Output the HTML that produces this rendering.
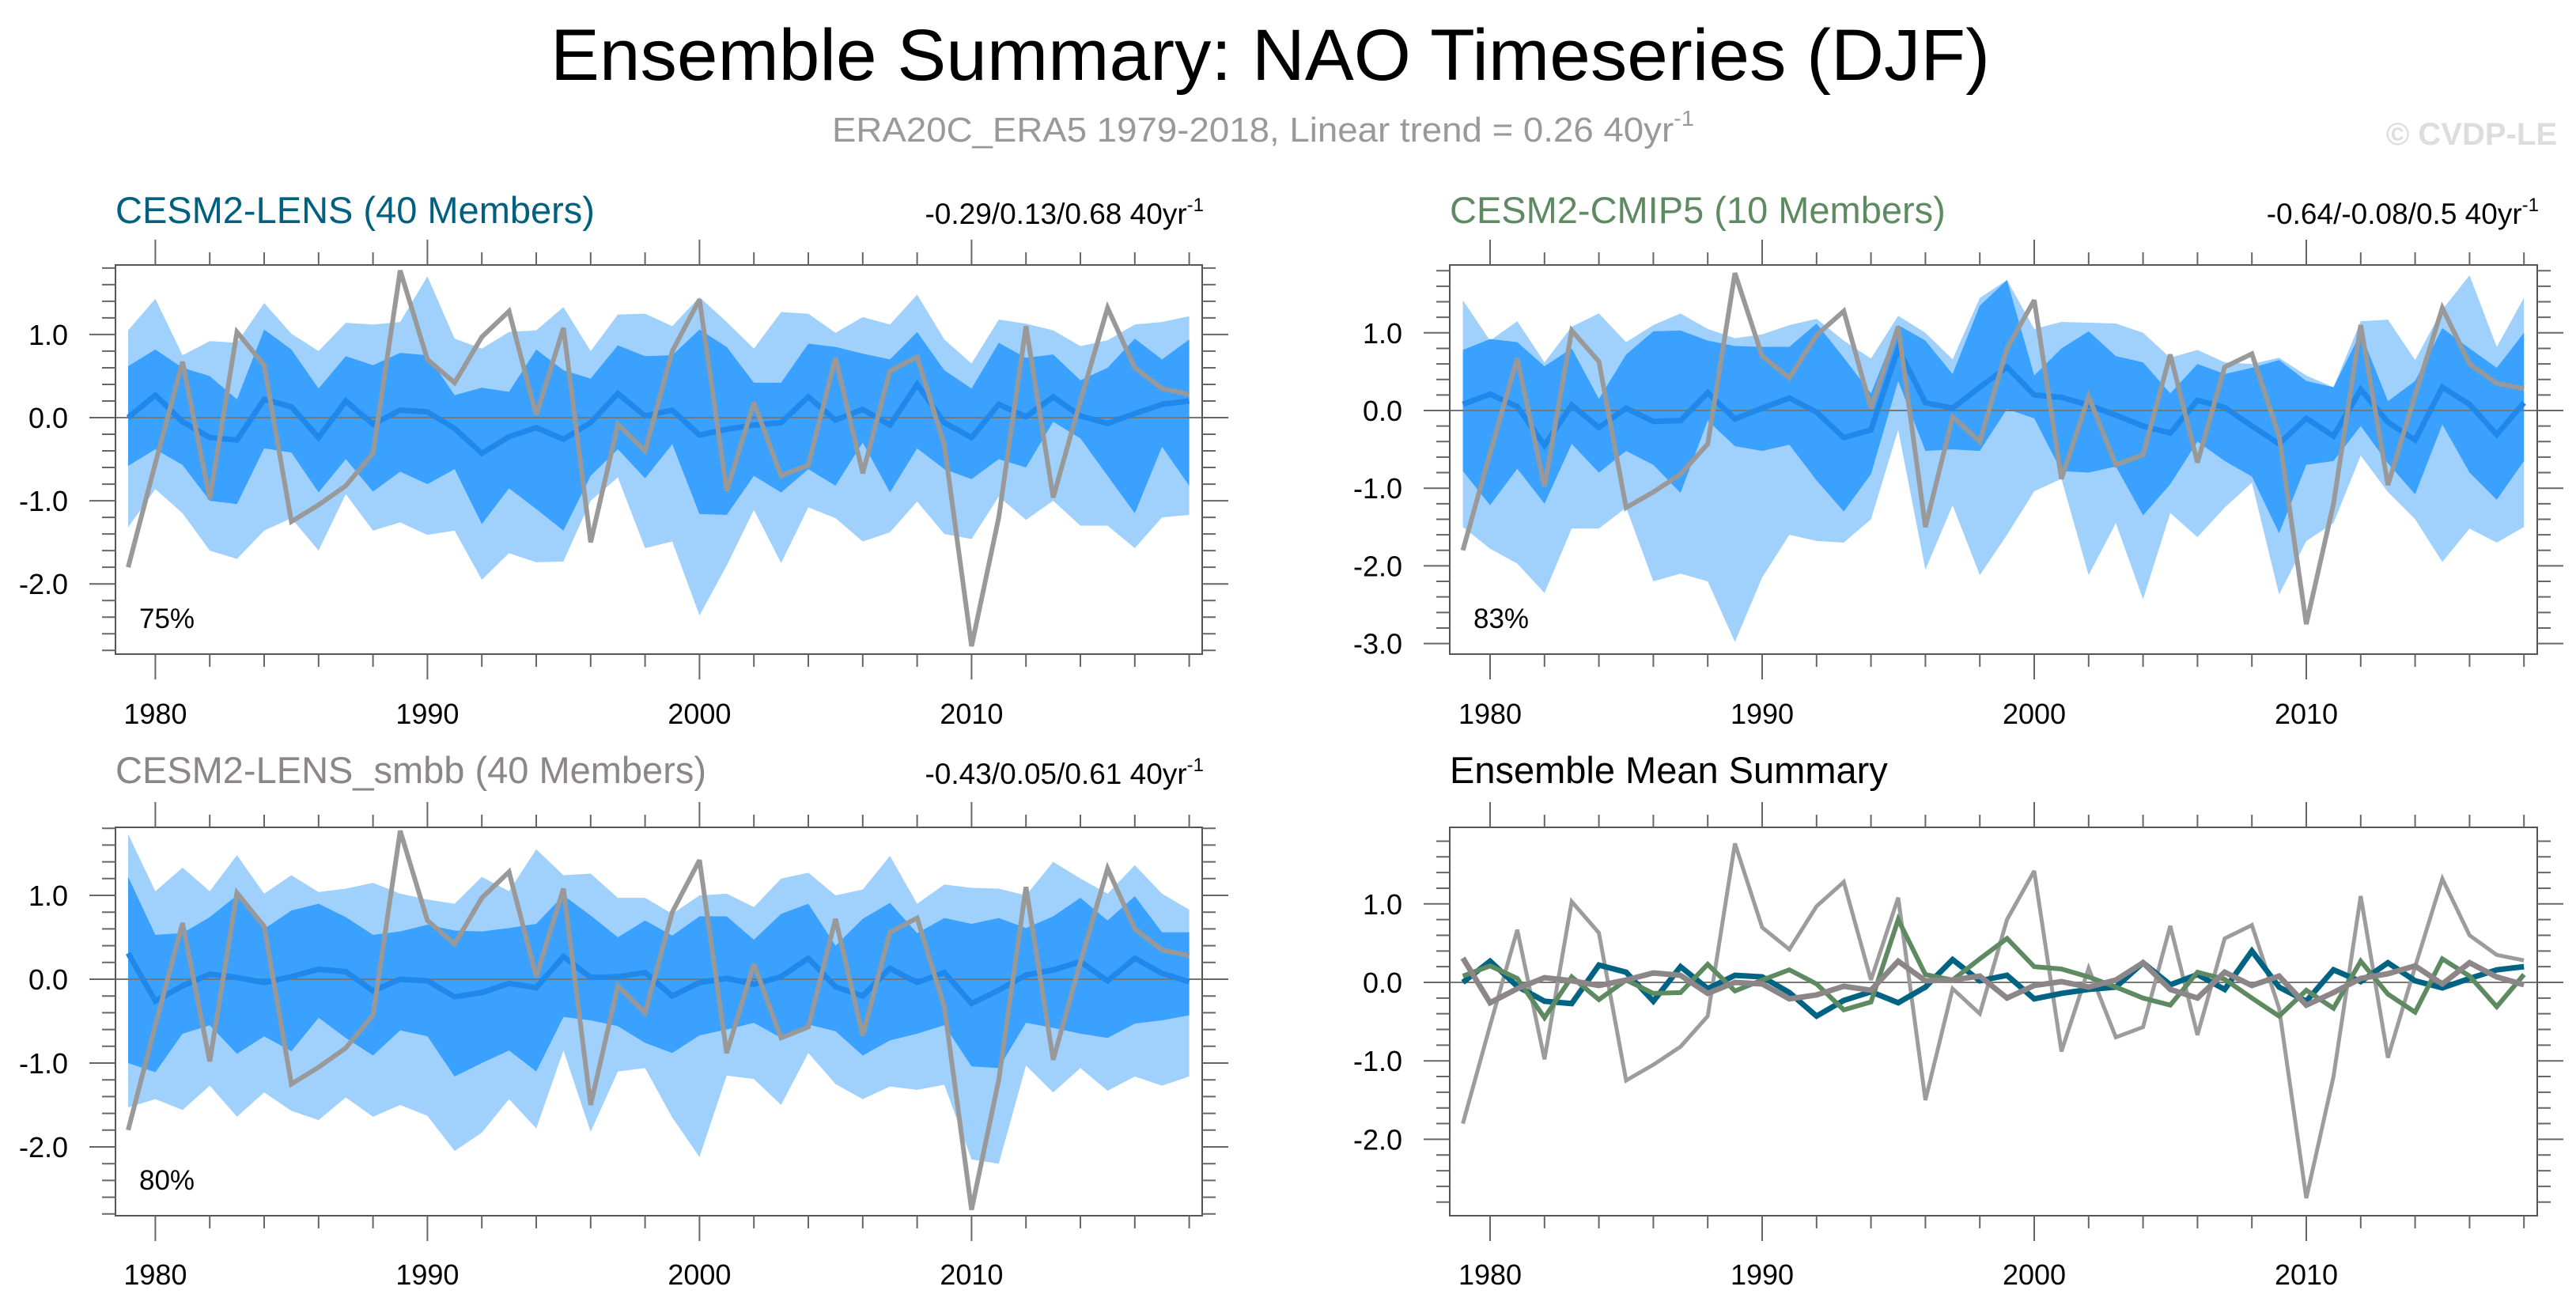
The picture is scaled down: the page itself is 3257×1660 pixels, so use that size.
<!DOCTYPE html>
<html><head><meta charset="utf-8">
<style>
html,body{margin:0;padding:0;background:#fff;}
svg{display:block;font-family:"Liberation Sans",sans-serif;}
</style></head>
<body>
<svg id="chart" width="3257" height="1660" viewBox="0 0 3257 1660" xmlns="http://www.w3.org/2000/svg">
<text x="1606" y="101" font-size="92" text-anchor="middle" fill="#000" textLength="1820" lengthAdjust="spacingAndGlyphs">Ensemble Summary: NAO Timeseries (DJF)</text>
<text x="1052" y="179" font-size="44" fill="#999" textLength="1090" lengthAdjust="spacingAndGlyphs">ERA20C_ERA5 1979-2018, Linear trend = 0.26 40yr<tspan dy="-20" font-size="28">-1</tspan></text>
<text x="3233" y="183" font-size="40" font-weight="bold" fill="#ddd" text-anchor="end">© CVDP-LE</text>
<g id="p1"></g>
<g id="p2"></g>
<g id="p3"></g>
<g id="p4"></g>
</svg>
<script>
const years = [1979,1980,1981,1982,1983,1984,1985,1986,1987,1988,1989,1990,1991,1992,1993,1994,1995,1996,1997,1998,1999,2000,2001,2002,2003,2004,2005,2006,2007,2008,2009,2010,2011,2012,2013,2014,2015,2016,2017,2018];
const obs = [-1.8,-0.55,0.67,-0.98,1.03,0.63,-1.25,-1.05,-0.82,-0.43,1.77,0.70,0.42,0.97,1.28,0.03,1.08,-1.50,-0.08,-0.40,0.80,1.42,-0.88,0.18,-0.70,-0.57,0.72,-0.67,0.56,0.73,-0.33,-2.75,-1.20,1.10,-0.96,0.2,1.32,0.60,0.35,0.28];

const lensMean = [0.0,0.27,-0.05,-0.24,-0.27,0.22,0.13,-0.24,0.20,-0.08,0.09,0.07,-0.13,-0.43,-0.23,-0.12,-0.26,-0.06,0.29,0.02,0.09,-0.21,-0.14,-0.09,-0.06,0.25,-0.03,0.10,-0.09,0.40,-0.06,-0.24,0.16,0.01,0.25,0.02,-0.07,0.05,0.16,0.20];
const lensLU = [1.05,1.43,0.75,0.92,0.90,1.38,1.01,0.80,1.14,1.12,1.15,1.70,0.95,0.83,1.03,1.05,1.33,0.80,1.24,1.25,1.10,1.45,1.15,0.83,1.27,1.25,1.02,1.21,1.12,1.48,0.94,0.65,1.18,1.13,1.05,0.86,0.93,1.12,1.15,1.22];
const lensDU = [0.62,0.82,0.60,0.50,0.22,1.06,0.82,0.35,0.74,0.63,0.78,0.75,0.27,0.36,0.31,0.82,0.57,0.47,0.87,0.74,0.75,1.06,0.85,0.42,0.42,0.89,0.85,0.77,0.70,1.03,0.57,0.35,0.90,0.72,0.76,0.45,0.60,0.95,0.70,0.94];
const lensDL = [-0.58,-0.38,-0.57,-1.00,-1.04,-0.37,-0.42,-0.90,-0.50,-0.89,-0.65,-0.80,-0.62,-1.28,-0.85,-1.10,-1.36,-0.70,-0.38,-0.73,-0.32,-1.16,-1.17,-0.70,-0.90,-0.62,-0.82,-0.30,-0.90,-0.37,-0.62,-0.74,-0.50,-0.60,-0.05,-0.25,-0.70,-1.15,-0.35,-0.82];
const lensLL = [-1.32,-0.86,-1.15,-1.60,-1.70,-1.36,-1.21,-1.60,-0.92,-1.36,-1.26,-1.41,-1.36,-1.95,-1.63,-1.74,-1.73,-1.00,-0.72,-1.57,-1.49,-2.38,-1.78,-1.11,-1.75,-1.08,-1.21,-1.49,-1.38,-1.01,-1.40,-1.46,-0.95,-1.23,-1.00,-1.30,-1.30,-1.57,-1.20,-1.17];

const cmipMean = [0.08,0.21,0.05,-0.45,0.07,-0.22,0.03,-0.14,-0.13,0.23,-0.11,0.03,0.16,-0.02,-0.35,-0.25,0.80,0.10,0.03,0.30,0.56,0.20,0.17,0.07,-0.06,-0.20,-0.29,0.13,0.04,-0.20,-0.43,-0.10,-0.33,0.27,-0.15,-0.38,0.30,0.08,-0.31,0.10];
const cmipLU = [1.42,0.90,1.15,0.62,1.08,1.25,0.88,1.10,1.25,1.05,0.93,0.98,1.10,1.18,0.90,0.67,1.22,1.00,0.66,1.45,1.68,1.05,1.14,1.13,1.12,1.00,0.68,0.78,0.62,0.60,0.68,0.45,0.30,1.15,1.17,0.65,1.30,1.74,0.82,1.45];
const cmipDU = [0.78,0.92,0.88,0.57,0.80,0.15,0.72,1.02,1.03,0.90,0.83,0.82,0.82,1.12,0.68,0.22,1.10,0.90,0.47,1.35,1.68,0.45,0.80,1.02,0.70,0.62,0.22,0.60,0.47,0.55,0.65,0.38,0.30,1.00,0.12,0.38,1.06,0.80,0.55,1.00];
const cmipDL = [-0.78,-1.22,-0.75,-1.20,-0.43,-0.80,-0.52,-0.70,-1.06,-0.13,-0.46,-0.52,-0.44,-0.90,-1.30,-0.82,0.38,-0.52,-0.50,-0.52,0.02,-0.10,-0.78,-0.80,-0.72,-1.35,-0.95,-0.40,-0.65,-0.85,-1.58,-0.70,-0.65,-0.20,-0.68,-1.08,-0.18,-0.80,-1.15,-0.65];
const cmipLL = [-1.50,-1.78,-1.97,-2.35,-1.52,-1.52,-1.25,-2.20,-2.10,-2.20,-2.98,-2.15,-1.60,-1.68,-1.70,-1.40,-0.25,-2.05,-1.22,-2.12,-1.60,-1.04,-0.88,-2.12,-1.45,-2.43,-1.32,-1.63,-1.25,-0.93,-2.37,-1.68,-1.45,-0.58,-1.05,-1.40,-1.95,-1.52,-1.70,-1.50];

const smbbMean = [0.31,-0.26,-0.08,0.06,0.02,-0.04,0.03,0.12,0.09,-0.14,0.0,-0.02,-0.21,-0.16,-0.05,-0.10,0.27,0.02,0.03,0.08,-0.20,-0.04,0.01,-0.06,0.03,0.25,-0.09,-0.20,0.13,-0.04,0.08,-0.29,-0.13,0.05,0.11,0.21,-0.02,0.25,0.07,-0.03];
const smbbLU = [1.73,1.05,1.33,1.05,1.48,1.02,1.24,1.04,1.08,1.15,1.02,0.95,0.90,1.22,1.05,1.55,1.24,1.26,0.97,0.97,0.78,1.00,1.02,0.86,1.20,1.27,1.00,1.07,1.47,0.90,1.13,1.09,1.08,1.00,1.40,1.20,1.02,1.36,1.02,0.83];
const smbbDU = [1.22,0.53,0.55,0.74,1.00,0.60,0.82,0.90,0.74,0.53,0.57,0.65,0.58,0.57,0.61,0.66,1.00,0.76,0.50,0.70,0.52,0.75,0.75,0.47,0.78,0.90,0.40,0.72,0.91,0.55,0.73,0.66,0.73,0.61,0.75,0.97,0.70,0.99,0.56,0.56];
const smbbDL = [-1.00,-1.11,-0.65,-0.55,-0.89,-0.68,-0.86,-0.46,-0.70,-0.91,-0.61,-0.68,-1.16,-1.00,-0.85,-1.10,-0.45,-0.49,-0.56,-0.76,-0.88,-0.67,-0.60,-0.52,-0.70,-0.54,-0.62,-0.91,-0.73,-0.65,-0.55,-1.04,-1.06,-0.52,-0.58,-0.65,-0.70,-0.53,-0.49,-0.43];
const smbbLL = [-1.53,-1.43,-1.56,-1.27,-1.64,-1.35,-1.57,-1.68,-1.41,-1.64,-1.50,-1.63,-2.05,-1.83,-1.43,-1.78,-0.85,-1.82,-1.10,-1.06,-1.65,-2.12,-1.15,-1.19,-1.50,-0.88,-1.25,-1.43,-1.28,-1.32,-1.26,-2.15,-2.20,-1.03,-1.35,-1.06,-1.33,-1.16,-1.27,-1.16];

const xTickLabels = ["1980","1990","2000","2010"];
const yTickLabelsA = ["-2.0","-1.0","0.0","1.0"];
const yTickLabelsB = ["-3.0","-2.0","-1.0","0.0","1.0"];

const NS = "http://www.w3.org/2000/svg";
function mk(parent, tag, attrs){
  const e = document.createElementNS(NS, tag);
  for (const k in attrs) e.setAttribute(k, attrs[k]);
  parent.appendChild(e);
  return e;
}

function drawPanel(g, cfg){
  const L=cfg.left, R=cfg.right, T=cfg.top, B=cfg.bottom;
  const x0 = cfg.x1979, xs = 34.4;
  const xf = y => x0 + (y-1979)*xs;
  const yf = v => cfg.zero - v*cfg.unit;
  const clipId = g.id + "clip";
  const cp = mk(g,"clipPath",{id:clipId});
  mk(cp,"rect",{x:L,y:T,width:R-L,height:B-T});
  const plot = mk(g,"g",{"clip-path":"url(#"+clipId+")"});
  
  
  function band(up, lo, color, name){
    let pts = years.map((y,i)=>xf(y)+","+yf(up[i]));
    for (let i=years.length-1;i>=0;i--) pts.push(xf(years[i])+","+yf(lo[i]));
    const p = mk(plot,"polygon",{points:pts.join(" "),fill:color});
    
    
  }
  function line(vals, color, w, name){
    const p = mk(plot,"polyline",{points:years.map((y,i)=>xf(y)+","+yf(vals[i])).join(" "),fill:"none",stroke:color,"stroke-width":w,"stroke-linejoin":"miter","stroke-miterlimit":"3"});
    
    
  }
  if (cfg.bands){
    band(cfg.bands[0], cfg.bands[3], "#a0d1fd", "band-outer");
    band(cfg.bands[1], cfg.bands[2], "#3aa1fe", "band-inner");
  }
  const zl = mk(plot,"line",{x1:L,x2:R,y1:yf(0),y2:yf(0),stroke:"#777","stroke-width":2});
  
  
  if (cfg.bands){
    line(cfg.mean, "#1f88ea", 7, "ensemble-mean-line");
    line(obs, "#999", 6, "observed-line");
  } else {
    line(obs, "#9c9c9c", 5, "observed-line");
    line(lensMean, "#006384", 7, "cesm2-lens-mean-line");
    line(cmipMean, "#5e8a62", 6, "cesm2-cmip5-mean-line");
    line(smbbMean, "#8c8689", 7, "cesm2-lens-smbb-mean-line");
  }
  const fr = mk(g,"rect",{x:L,y:T,width:R-L,height:B-T,fill:"none",stroke:"#555","stroke-width":2});
  
  
  for (let y=1980;y<=2018;y+=2){
    const major = (y%10===0);
    const len = major?32:16, X=xf(y);
    mk(g,"line",{x1:X,x2:X,y1:T,y2:T-len,stroke:"#666","stroke-width":2});
    mk(g,"line",{x1:X,x2:X,y1:B,y2:B+len,stroke:"#666","stroke-width":2});
  }
  xTickLabels.forEach(s=>{
    const t = mk(g,"text",{x:xf(+s),y:cfg.xlabY,"font-size":36,"text-anchor":"middle",fill:"#000"});
    t.textContent = s;
    
    
  });
  for (let k=-40;k<=25;k+=2){
    const v=k/10, Y=yf(v);
    if (Y<T-1||Y>B+1) continue;
    const major = (k%10===0);
    const len = major?33:17;
    mk(g,"line",{x1:L,x2:L-len,y1:Y,y2:Y,stroke:"#666","stroke-width":2});
    mk(g,"line",{x1:R,x2:R+len,y1:Y,y2:Y,stroke:"#666","stroke-width":2});
  }
  cfg.ylabels.forEach(s=>{
    const t = mk(g,"text",{x:L-60,y:yf(+s)+13,"font-size":36,"text-anchor":"end",fill:"#000"});
    t.textContent = s;
    
    
  });
  const ti = mk(g,"text",{x:L,y:cfg.titleY,"font-size":47,fill:cfg.titleColor});
  ti.textContent = cfg.title;
  
  
  if (cfg.trend){
    const tr = mk(g,"text",{x:R+2,y:cfg.titleY+1,"font-size":37,"text-anchor":"end",fill:"#000"});
    tr.textContent = cfg.trend;
    const sp = mk(tr,"tspan",{dy:-16,"font-size":24});
    sp.textContent = "-1";
    
    
  }
  if (cfg.pct){
    const p = mk(g,"text",{x:L+30,y:cfg.pctY,"font-size":35,fill:"#000"});
    p.textContent = cfg.pct;
    
    
  }
}

drawPanel(document.getElementById("p1"),{left:146,right:1520,top:335,bottom:827,x1979:162,zero:528,unit:105.1,
  bands:[lensLU,lensDU,lensDL,lensLL],mean:lensMean,ylabels:yTickLabelsA,xlabY:915,titleY:282,
  title:"CESM2-LENS (40 Members)",titleColor:"#00607f",trend:"-0.29/0.13/0.68 40yr",pct:"75%",pctY:794});
drawPanel(document.getElementById("p2"),{left:1833,right:3208,top:335,bottom:827,x1979:1849.6,zero:519,unit:98.2,
  bands:[cmipLU,cmipDU,cmipDL,cmipLL],mean:cmipMean,ylabels:yTickLabelsB,xlabY:915,titleY:282,
  title:"CESM2-CMIP5 (10 Members)",titleColor:"#5e8a62",trend:"-0.64/-0.08/0.5 40yr",pct:"83%",pctY:794});
drawPanel(document.getElementById("p3"),{left:146,right:1520,top:1046,bottom:1537,x1979:162,zero:1238,unit:106,
  bands:[smbbLU,smbbDU,smbbDL,smbbLL],mean:smbbMean,ylabels:yTickLabelsA,xlabY:1624,titleY:990,
  title:"CESM2-LENS_smbb (40 Members)",titleColor:"#8c8689",trend:"-0.43/0.05/0.61 40yr",pct:"80%",pctY:1504});
drawPanel(document.getElementById("p4"),{left:1833,right:3208,top:1046,bottom:1537,x1979:1849.6,zero:1242,unit:99.2,
  bands:null,ylabels:yTickLabelsA,xlabY:1624,titleY:990,
  title:"Ensemble Mean Summary",titleColor:"#000"});
</script>
</body></html>
